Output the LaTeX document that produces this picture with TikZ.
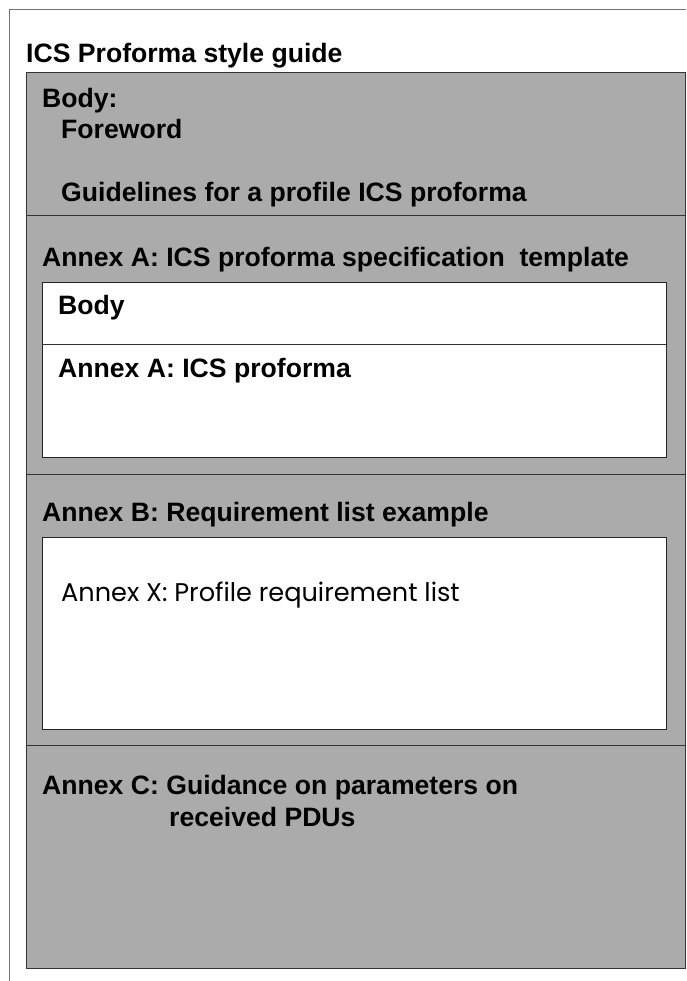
\documentclass[tikz,border=0pt]{standalone}
\usepackage{fontspec}
\setmainfont{Liberation Sans}
\newfontfamily\gothicfont{Poppins}
\usetikzlibrary{positioning}

\begin{document}
\begin{tikzpicture}
  [x=1pt,y=-1pt,
   txt/.style={anchor=base west,inner sep=0pt,font=\bfseries\fontsize{26.6}{30}\selectfont},
   plain/.style={anchor=base west,inner sep=0pt,font=\gothicfont\fontsize{25.6}{30}\selectfont},
   panel/.style={draw=black!85,line width=1pt,fill=white},
   rule/.style={draw=black!80,line width=1pt}]
  \useasboundingbox (0,0) rectangle (686,981);

  % outer frame
  \draw[black!55,line width=1pt] (686,9.5) -- (9.5,9.5) -- (9.5,981);
  \node[txt] (title) at (26,63) {ICS Proforma style guide};

  % grey page
  \fill[black!33] (26,73) rectangle (685,968);
  \draw[rule] (26,73) rectangle (685,968);
  \draw[rule] (26,216) -- (685,216);
  \draw[rule] (26,474) -- (685,474);
  \draw[rule] (26,745) -- (685,745);

  % body
  \node[txt] (body) at (42,108) {Body:};
  \node[txt] (foreword) at (61,139) {Foreword};
  \node[txt] (guide) at (61,202) {Guidelines for a profile ICS proforma};

  % annex A
  \node[txt] (annexA) at (42,266) {Annex A: ICS proforma specification\ \ template};
  \draw[panel] (42,282) rectangle (666,457);
  \draw[rule] (42,344) -- (666,344);
  \node[txt] (tbody) at (58,314) {Body};
  \node[txt] (tannex) at (58,377) {Annex A: ICS proforma};

  % annex B
  \node[txt] (annexB) at (42,521) {Annex B: Requirement list example};
  \draw[panel] (42,537) rectangle (666,729);
  \node[plain] (annexX) at (61,601) {Annex X: Profile requirement list};

  % annex C
  \node[txt] (annexC) at (42,794) {Annex C: Guidance on parameters on};
  \node[txt] (pdus) at (169,826) {received PDUs};
\end{tikzpicture}
\end{document}
